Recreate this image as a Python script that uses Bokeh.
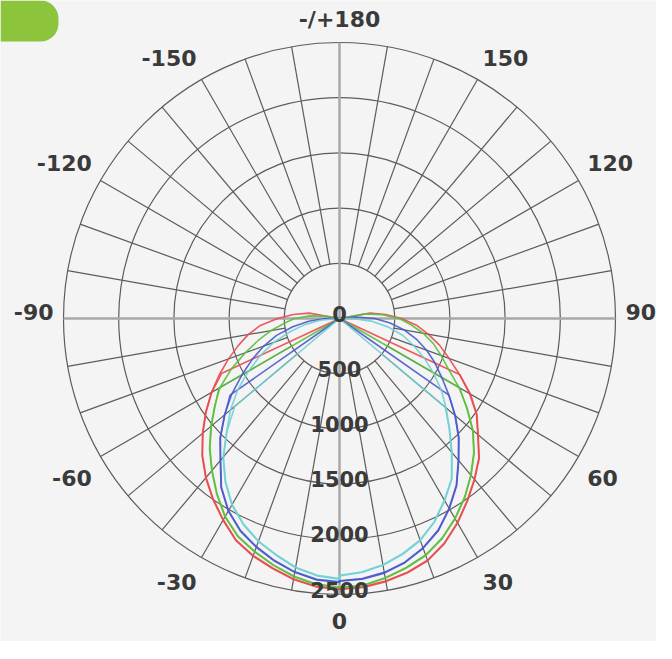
import math
from bokeh.plotting import figure
from bokeh.models import Range1d, BoxAnnotation, ColumnDataSource
from bokeh.core.properties import value
from bokeh.embed import file_html
from bokeh.resources import INLINE

# ---------------- data ----------------
gamma = [0, 5, 10, 15, 20, 25, 30, 35, 40, 45, 50, 55, 60, 65, 70, 75, 80, 85, 90, 95, 100, 105]

# outer planes (C0 right, C180 left)
red_c0 = [2455, 2445, 2420, 2385, 2335, 2250, 2140, 2020, 1905, 1790, 1640, 1520, 1370, 1200, 1055, 940, 815, 700, 560, 420, 280, 0]
red_c180 = [2455, 2440, 2400, 2345, 2290, 2220, 2110, 2000, 1885, 1760, 1620, 1480, 1340, 1200, 1070, 950, 840, 720, 560, 420, 280, 0]
green_c0 = [2440, 2430, 2390, 2340, 2285, 2200, 2095, 1980, 1855, 1725, 1580, 1410, 1250, 1090, 980, 880, 770, 650, 540, 390, 240, 0]
green_c180 = [2437, 2420, 2375, 2315, 2250, 2180, 2075, 1940, 1800, 1665, 1520, 1380, 1250, 1080, 910, 760, 630, 500, 410, 270, 120, 0]
blue_c0 = [2380, 2370, 2342, 2290, 2215, 2120, 1990, 1850, 1680, 1530, 1370, 1210, 1070, 955, 840, 720, 595, 460, 320, 150, 0, 0]
blue_c180 = [2392, 2378, 2335, 2275, 2205, 2125, 2015, 1870, 1680, 1530, 1360, 1190, 1020, 870, 730, 590, 430, 280, 130, 0, 0, 0]
cyan_c0 = [2332, 2310, 2270, 2212, 2140, 2035, 1905, 1775, 1585, 1410, 1260, 1125, 980, 845, 715, 595, 450, 300, 120, 0, 0, 0]
cyan_c180 = [2361, 2340, 2293, 2220, 2150, 2060, 1950, 1805, 1640, 1445, 1290, 1125, 950, 790, 635, 465, 320, 175, 0, 0, 0, 0]

# inner planes (C90 right, C270 left)
red_c90 = [2450, 2440, 2415, 2380, 2330, 2245, 2135, 2015, 1900, 1785, 1635, 1515, 1360, 1200, 0, 0, 0, 0, 0, 0, 0, 0]
red_c270 = [2450, 2435, 2395, 2340, 2285, 2215, 2105, 1995, 1880, 1755, 1615, 1475, 1335, 1180, 0, 0, 0, 0, 0, 0, 0, 0]
green_c90 = [2435, 2425, 2385, 2335, 2280, 2195, 2090, 1975, 1850, 1720, 1575, 1405, 1255, 0, 0, 0, 0, 0, 0, 0, 0, 0]
green_c270 = [2432, 2415, 2370, 2310, 2245, 2175, 2070, 1935, 1795, 1660, 1515, 1375, 1262, 0, 0, 0, 0, 0, 0, 0, 0, 0]
blue_c90 = [2375, 2365, 2335, 2285, 2210, 2115, 1985, 1845, 1675, 1525, 1365, 1209, 0, 0, 0, 0, 0, 0, 0, 0, 0, 0]
blue_c270 = [2385, 2372, 2330, 2270, 2200, 2120, 2010, 1865, 1675, 1525, 1355, 1210, 0, 0, 0, 0, 0, 0, 0, 0, 0, 0]
cyan_c90 = [2325, 2305, 2265, 2205, 2135, 2030, 1900, 1770, 1580, 1405, 1250, 0, 0, 0, 0, 0, 0, 0, 0, 0, 0, 0]
cyan_c270 = [2355, 2335, 2288, 2215, 2145, 2055, 1945, 1800, 1635, 1440, 1240, 0, 0, 0, 0, 0, 0, 0, 0, 0, 0, 0]

series_colors = ["#e84a4e", "#5cbf3c", "#4a58cc", "#6fd0d4"]
outer_right = [red_c0, green_c0, blue_c0, cyan_c0]
outer_left = [red_c180, green_c180, blue_c180, cyan_c180]
inner_right = [red_c90, green_c90, blue_c90, cyan_c90]
inner_left = [red_c270, green_c270, blue_c270, cyan_c270]

ring_values = [500, 1000, 1500, 2000, 2500]
ring_label_values = [0, 500, 1000, 1500, 2000, 2500]
ring_labels = ["0", "500", "1000", "1500", "2000", "2500"]
spoke_step = 10
angle_ticks = [0, 30, 60, 90, 120, 150, 180, -150, -120, -90, -60, -30]
angle_labels = ["0", "30", "60", "90", "120", "150", "-/+180", "-150", "-120", "-90", "-60", "-30"]

# ---------------- geometry ----------------
PX = 55.2 / 500.0          # pixels per cd
W, H = 656, 641
CX, CY = 339, 318          # centre inside the frame (px)
RMAX = ring_values[-1]
LABEL_R = 286 / PX


def pol(r, a_deg):
    a = math.radians(a_deg)
    return r * math.sin(a), -r * math.cos(a)


p = figure(frame_width=W, frame_height=H, min_border=0, toolbar_location=None,
           output_backend="svg",
           x_range=Range1d(-CX / PX, (W - CX) / PX),
           y_range=Range1d(-(H - CY) / PX, CY / PX))
p.axis.visible = False
p.grid.visible = False
p.outline_line_color = None
p.background_fill_color = "#f4f4f4"
p.border_fill_color = "#f4f4f4"

# green tab in the corner
tab = BoxAnnotation(left=-CX / PX, right=-CX / PX + 58 / PX,
                    top=CY / PX, bottom=CY / PX - 41 / PX,
                    fill_color="#8cc43c", fill_alpha=1.0, line_color=None,
                    border_radius=(0, 18, 18, 0))
p.add_layout(tab)

# rings
p.circle(x=[0] * len(ring_values), y=[0] * len(ring_values), radius=ring_values,
         fill_color=None, line_color="#5c5c5c", line_width=1.2)

# spokes from the 500 ring outward
x0s, y0s, x1s, y1s = [], [], [], []
for a in range(0, 360, spoke_step):
    if a % 90 == 0:
        continue
    xa, ya = pol(ring_values[0], a)
    xb, yb = pol(RMAX, a)
    x0s.append(xa); y0s.append(ya); x1s.append(xb); y1s.append(yb)
p.segment(x0=x0s, y0=y0s, x1=x1s, y1=y1s, line_color="#5c5c5c", line_width=1.2)

# main axes through the centre
p.segment(x0=[-RMAX, 0], y0=[0, -RMAX], x1=[RMAX, 0], y1=[0, RMAX],
          line_color="#a8a8a8", line_width=2.5)


def curve(left, right):
    xs, ys = [], []
    for g, v in zip(reversed(gamma), reversed(left)):
        x, y = pol(v, -g)
        xs.append(x); ys.append(y)
    for g, v in zip(gamma, right):
        x, y = pol(v, g)
        xs.append(x); ys.append(y)
    return xs, ys


for col, ol, orr, il, ir in zip(series_colors, outer_left, outer_right, inner_left, inner_right):
    xs, ys = curve(ol, orr)
    p.line(xs, ys, line_color=col, line_width=1.6, line_alpha=0.9, line_join="round")
    xs, ys = curve(il, ir)
    p.line(xs, ys, line_color=col, line_width=1.6, line_alpha=0.9, line_join="round")

# ring labels
p.text(x=[0] * len(ring_label_values), y=[-v for v in ring_label_values], text=ring_labels,
       text_font=value("DejaVu Sans"), text_font_style="bold", text_font_size="21px",
       text_color="#3a3a3a", text_align="center", text_baseline="middle", y_offset=-5)

# angle labels
lx, ly, aligns, yoffs = [], [], [], []
for a in angle_ticks:
    x, y = pol(LABEL_R, a)
    lx.append(x); ly.append(y)
    if abs(x) < 1:
        aligns.append("center")
    elif x > 0:
        aligns.append("left")
    else:
        aligns.append("right")
    c = math.cos(math.radians(a))
    if c > 0.01:
        yoffs.append(16)
    elif c < -0.01:
        yoffs.append(-13)
    else:
        yoffs.append(-7)
src = ColumnDataSource(dict(x=lx, y=ly, text=angle_labels, align=aligns, yoff=yoffs))
p.text(x="x", y="y", text="text", source=src, text_align="align", y_offset="yoff",
       text_baseline="middle", text_font=value("DejaVu Sans"), text_font_style="bold",
       text_font_size="22px", text_color="#3a3a3a")

open("out.html", "w").write(file_html(p, INLINE))
